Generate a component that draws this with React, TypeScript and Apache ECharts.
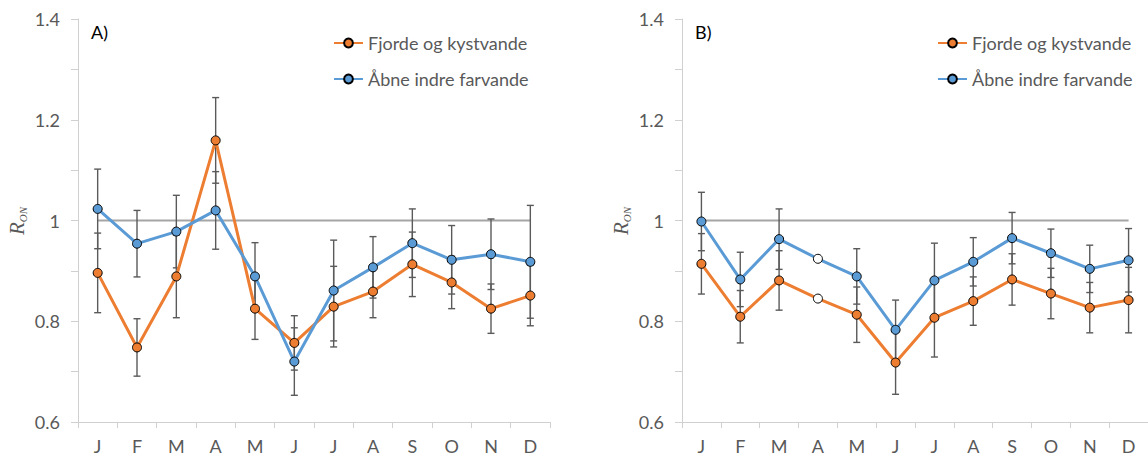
import React, { useEffect, useRef } from 'react';
import * as echarts from 'echarts';

// Month initials on the category axis
const months = ['J', 'F', 'M', 'A', 'M', 'J', 'J', 'A', 'S', 'O', 'N', 'D'];

// Panel A – monthly R_ON ratio with error half-widths
const fjordA = [0.896, 0.748, 0.889, 1.159, 0.825, 0.757, 0.829, 0.859, 0.913, 0.877, 0.825, 0.851];
const fjordErrA = [0.079, 0.057, 0.082, 0.085, 0.061, 0.054, 0.080, 0.052, 0.064, 0.052, 0.049, 0.060];
const openA = [1.023, 0.954, 0.978, 1.020, 0.889, 0.720, 0.861, 0.907, 0.955, 0.922, 0.933, 0.918];
const openErrA = [0.079, 0.066, 0.072, 0.077, 0.067, 0.067, 0.100, 0.061, 0.068, 0.068, 0.070, 0.112];

// Panel B – April has no error estimate and is drawn with open markers
const fjordB = [0.914, 0.809, 0.881, 0.845, 0.813, 0.718, 0.807, 0.840, 0.883, 0.855, 0.827, 0.842];
const fjordErrB = [0.060, 0.052, 0.059, null, 0.055, 0.063, 0.078, 0.048, 0.051, 0.050, 0.050, 0.065];
const openB = [0.998, 0.883, 0.963, 0.924, 0.889, 0.783, 0.881, 0.918, 0.965, 0.935, 0.904, 0.921];
const openErrB = [0.058, 0.054, 0.060, null, 0.055, 0.059, 0.074, 0.048, 0.051, 0.048, 0.047, 0.063];

// Reference level R_ON = 1
const referenceLevel = [1, 1, 1, 1, 1, 1, 1, 1, 1, 1, 1, 1];

const FJORD_NAME = 'Fjorde og kystvande';
const OPEN_NAME = 'Åbne indre farvande';
const ORANGE = '#ED7D31';
const BLUE = '#5B9BD5';
const GREY_TEXT = '#595959';
const AXIS_GREY = '#d0d0d0';
const FONT = 'Lato, "Open Sans", sans-serif';
const SERIF = '"Liberation Serif", "DejaVu Serif", serif';

const panels = [
  { label: 'A)', left: 78, fjord: fjordA, fjordErr: fjordErrA, open: openA, openErr: openErrA },
  { label: 'B)', left: 682, fjord: fjordB, fjordErr: fjordErrB, open: openB, openErr: openErrB },
];

const GRID_TOP = 19;
const GRID_HEIGHT = 403;
const GRID_WIDTH = 472;

const renderErrorBar = (_params: any, api: any) => {
  const i = api.value(0);
  const lo = api.coord([i, api.value(1)]);
  const hi = api.coord([i, api.value(2)]);
  const cap = 3.5;
  const style = { stroke: '#5a5a5a', lineWidth: 1.4, fill: null };
  return {
    type: 'group',
    children: [
      { type: 'line', shape: { x1: lo[0], y1: lo[1], x2: hi[0], y2: hi[1] }, style },
      { type: 'line', shape: { x1: hi[0] - cap, y1: hi[1], x2: hi[0] + cap, y2: hi[1] }, style },
      { type: 'line', shape: { x1: lo[0] - cap, y1: lo[1], x2: lo[0] + cap, y2: lo[1] }, style },
    ],
  };
};

const errorData = (values: number[], errs: (number | null)[]) =>
  values
    .map((v, i) => (errs[i] == null ? null : [i, v - (errs[i] as number), v + (errs[i] as number)]))
    .filter((d) => d !== null);

const lineData = (values: number[], errs: (number | null)[]) =>
  values.map((v, i) => (errs[i] == null ? { value: v, itemStyle: { color: '#ffffff' } } : v));

const yLabel = (v: number) => {
  const k = Math.round(v * 10);
  if (k % 2 !== 0) return '';
  return k === 10 ? '1' : (k / 10).toFixed(1);
};

function buildOption() {
  const grid: any[] = [];
  const xAxis: any[] = [];
  const yAxis: any[] = [];
  const series: any[] = [];
  const legend: any[] = [];
  const graphic: any[] = [];

  panels.forEach((p, idx) => {
    grid.push({ left: p.left, top: GRID_TOP, width: GRID_WIDTH, height: GRID_HEIGHT, containLabel: false });
    xAxis.push({
      type: 'category',
      gridIndex: idx,
      data: months,
      boundaryGap: true,
      axisLine: { show: true, lineStyle: { color: AXIS_GREY, width: 1 } },
      axisTick: { show: true, interval: 0, length: 6, lineStyle: { color: AXIS_GREY } },
      axisLabel: { interval: 0, color: GREY_TEXT, fontSize: 18, fontFamily: FONT, margin: 15 },
      splitLine: { show: false },
    });
    yAxis.push({
      type: 'value',
      gridIndex: idx,
      min: 0.6,
      max: 1.4,
      interval: 0.1,
      axisLine: { show: true, lineStyle: { color: AXIS_GREY, width: 1 } },
      axisTick: { show: true, length: 7, lineStyle: { color: AXIS_GREY } },
      axisLabel: { color: GREY_TEXT, fontSize: 18, fontFamily: FONT, margin: 18, formatter: yLabel },
      splitLine: { show: false },
    });

    series.push({
      type: 'line',
      name: 'ref' + idx,
      xAxisIndex: idx,
      yAxisIndex: idx,
      data: referenceLevel,
      showSymbol: false,
      symbol: 'none',
      lineStyle: { color: '#a5a5a5', width: 2 },
      silent: true,
      z: 1,
    });

    const groups = [
      { name: FJORD_NAME, color: ORANGE, values: p.fjord, errs: p.fjordErr },
      { name: OPEN_NAME, color: BLUE, values: p.open, errs: p.openErr },
    ];

    groups.forEach((s) => {
      series.push({
        type: 'custom',
        name: s.name + ' error',
        xAxisIndex: idx,
        yAxisIndex: idx,
        data: errorData(s.values, s.errs),
        encode: { x: 0, y: [1, 2] },
        renderItem: renderErrorBar,
        silent: true,
        z: 2,
      });
    });

    groups.forEach((s) => {
      series.push({
        type: 'line',
        name: s.name,
        xAxisIndex: idx,
        yAxisIndex: idx,
        data: lineData(s.values, s.errs),
        symbol: 'circle',
        symbolSize: 9,
        showSymbol: true,
        showAllSymbol: true,
        lineStyle: { color: s.color, width: 3 },
        itemStyle: { color: s.color, borderColor: '#000000', borderWidth: 1 },
        z: 3,
      });
    });

    legend.push({
      orient: 'vertical',
      left: p.left + 255,
      top: 34,
      padding: 0,
      itemWidth: 29,
      itemHeight: 11,
      itemGap: 18,
      selectedMode: false,
      data: [FJORD_NAME, OPEN_NAME],
      textStyle: { color: GREY_TEXT, fontSize: 18, fontFamily: FONT },
    });

    graphic.push({
      type: 'text',
      left: p.left + 13,
      top: 23,
      style: { text: p.label, fill: '#000000', font: `18px ${FONT}` },
    });

    graphic.push({
      type: 'text',
      x: p.left - 61,
      y: 221,
      rotation: Math.PI / 2,
      style: {
        text: '{r|R}{s|ON}',
        align: 'center',
        verticalAlign: 'middle',
        rich: {
          r: {
            fontFamily: SERIF,
            fontStyle: 'italic',
            fontSize: 21,
            fill: GREY_TEXT,
            lineHeight: 22,
            verticalAlign: 'middle',
          },
          s: {
            fontFamily: SERIF,
            fontStyle: 'italic',
            fontSize: 11,
            fill: GREY_TEXT,
            lineHeight: 11,
            verticalAlign: 'bottom',
          },
        },
      },
    });
  });

  return {
    animation: false,
    backgroundColor: '#ffffff',
    grid,
    xAxis,
    yAxis,
    legend,
    series,
    graphic,
  };
}

export default function App() {
  const ref = useRef<HTMLDivElement | null>(null);

  useEffect(() => {
    if (!ref.current) return;
    const chart = echarts.init(ref.current, null, { renderer: 'svg' });
    chart.setOption(buildOption() as any);
    return () => {
      chart.dispose();
    };
  }, []);

  return (
    <div
      ref={ref}
      style={{ position: 'fixed', left: 0, top: 0, width: 1148, height: 459, background: '#fff' }}
    />
  );
}
